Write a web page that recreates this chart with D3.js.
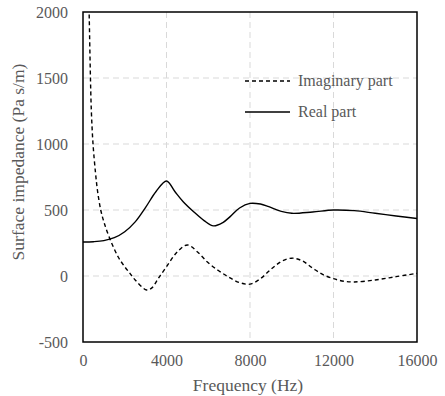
<!DOCTYPE html>
<html>
<head>
<meta charset="utf-8">
<script src="https://cdn.jsdelivr.net/npm/d3@7"></script>
</head>
<body style="margin:0; background:#fff">
<svg width="445" height="396" font-family="Liberation Serif"></svg>
<script>
// frequency (Hz) and surface impedance (Pa s/m)
const realFreq = [0, 500, 1000, 1500, 2000, 2500, 3000, 3500, 4000, 4400, 4800, 5300, 5800, 6250, 6700, 7050, 7500, 8000, 8500, 8900, 9500, 10000, 11000, 12000, 13000, 14000, 15000, 16000];
const realVals = [258, 260, 268, 290, 335, 410, 520, 640, 720, 640, 563, 487, 420, 380, 405, 450, 515, 550, 545, 525, 490, 475, 485, 500, 495, 475, 455, 435];

const imagFreq = [250, 300, 350, 400, 480, 600, 700, 850, 1000, 1280, 1680, 2000, 2250, 2500, 3050, 3300, 3600, 4000, 4500, 5000, 5500, 6000, 6500, 7000, 7500, 8000, 8500, 9000, 9500, 10000, 10500, 11000, 11500, 12000, 12500, 13000, 14000, 15000, 16000];
const imagVals = [2300, 1950, 1550, 1250, 1000, 780, 640, 500, 410, 285, 146, 70, 20, -30, -106, -90, -20, 70, 180, 235, 180, 100, 40, -10, -50, -62, -20, 50, 110, 135, 115, 60, 10, -20, -40, -45, -30, -5, 20];

const xTicks = [0, 4000, 8000, 12000, 16000];
const yTicks = [-500, 0, 500, 1000, 1500, 2000];

const seriesNames = ["Imaginary part", "Real part"];

const fontName = "Liberation Serif";
const grey = "#595959";

const svg = d3.select("svg");
const margin = { top: 12, right: 28, bottom: 54, left: 83 };
const width = 445 - margin.left - margin.right;
const height = 396 - margin.top - margin.bottom;

const g = svg.append("g")
  .attr("transform", `translate(${margin.left},${margin.top})`);

const x = d3.scaleLinear().domain([0, 16000]).range([0, width]);
const y = d3.scaleLinear().domain([-500, 2000]).range([height, 0]);

// grid
g.selectAll(".hgrid")
  .data(yTicks.filter(d => d > -500 && d < 2000))
  .enter().append("line")
  .attr("x1", 0).attr("x2", width)
  .attr("y1", d => y(d)).attr("y2", d => y(d))
  .attr("stroke", "#d9d9d9").attr("stroke-width", 1)
  .attr("stroke-dasharray", "6,4");

g.selectAll(".vgrid")
  .data(xTicks.filter(d => d > 0 && d < 16000))
  .enter().append("line")
  .attr("y1", 0).attr("y2", height)
  .attr("x1", d => x(d)).attr("x2", d => x(d))
  .attr("stroke", "#d9d9d9").attr("stroke-width", 1)
  .attr("stroke-dasharray", "6,4");

// axes (labels only)
const xAxis = g.append("g")
  .attr("transform", `translate(0,${height})`)
  .call(d3.axisBottom(x).tickValues(xTicks).tickSize(0).tickPadding(13).tickFormat(d => String(d)));
const yAxis = g.append("g")
  .call(d3.axisLeft(y).tickValues(yTicks).tickSize(0).tickPadding(15).tickFormat(d => String(d)));

[xAxis, yAxis].forEach(a => {
  a.attr("font-family", fontName).attr("font-size", 16);
  a.select(".domain").remove();
  a.selectAll("text").attr("fill", grey);
});

// clip for the curves
svg.append("defs").append("clipPath").attr("id", "plot")
  .append("rect").attr("width", width).attr("height", height);

const line = d3.line()
  .x(d => x(d[0]))
  .y(d => y(d[1]))
  .curve(d3.curveCatmullRom.alpha(0.5));

const realData = realFreq.map((f, i) => [f, realVals[i]]);
const imagData = imagFreq.map((f, i) => [f, imagVals[i]]);

const curves = g.append("g").attr("clip-path", "url(#plot)");

curves.append("path")
  .datum(imagData)
  .attr("d", line)
  .attr("fill", "none")
  .attr("stroke", "#000")
  .attr("stroke-width", 1.4)
  .attr("stroke-dasharray", "4,3");

curves.append("path")
  .datum(realData)
  .attr("d", line)
  .attr("fill", "none")
  .attr("stroke", "#000")
  .attr("stroke-width", 1.4);

// frame
g.append("rect")
  .attr("width", width).attr("height", height)
  .attr("fill", "none")
  .attr("stroke", "#000")
  .attr("stroke-width", 1.5);

// legend
const legend = g.append("g").attr("transform", "translate(162,69)");
seriesNames.forEach((name, i) => {
  const row = legend.append("g").attr("transform", `translate(0,${i * 31})`);
  row.append("line")
    .attr("x1", 0).attr("x2", 45)
    .attr("stroke", "#000")
    .attr("stroke-width", 1.4)
    .attr("stroke-dasharray", i === 0 ? "4,3" : null);
  row.append("text")
    .attr("x", 53).attr("y", 0)
    .attr("dy", "0.32em")
    .attr("fill", grey)
    .attr("font-family", fontName)
    .attr("font-size", 16)
    .text(name);
});

// axis titles
svg.append("text")
  .attr("x", 248).attr("y", 391)
  .attr("text-anchor", "middle")
  .attr("fill", grey)
  .attr("font-family", fontName)
  .attr("font-size", 17.5)
  .text("Frequency (Hz)");

svg.append("text")
  .attr("transform", "translate(24,162) rotate(-90)")
  .attr("text-anchor", "middle")
  .attr("fill", grey)
  .attr("font-family", fontName)
  .attr("font-size", 17.5)
  .text("Surface impedance (Pa s/m)");
</script>
</body>
</html>
